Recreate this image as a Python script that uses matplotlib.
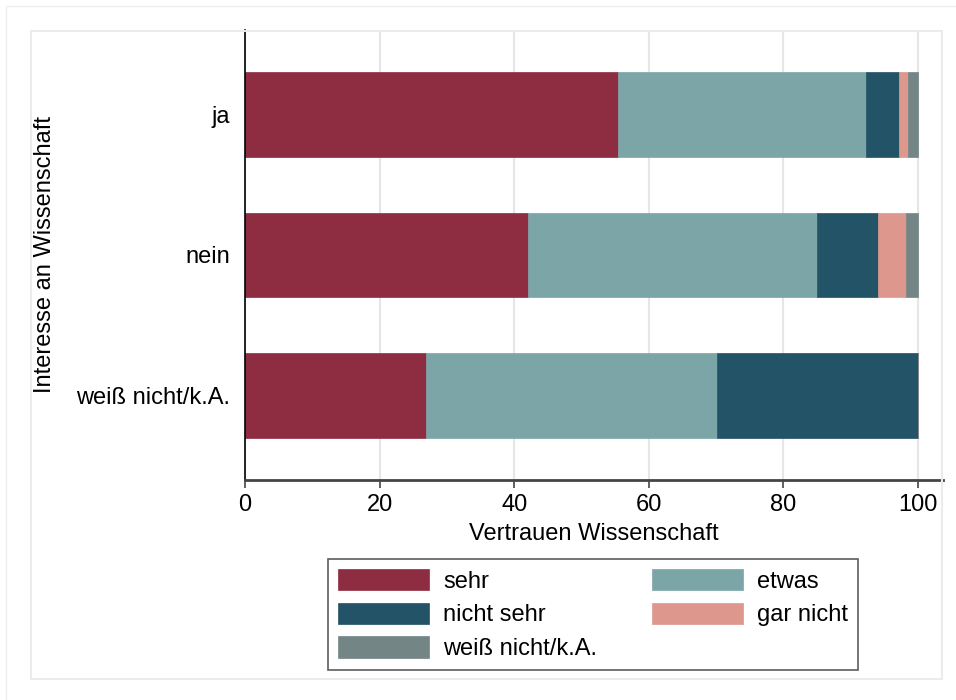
import matplotlib.pyplot as plt
from matplotlib.patches import Rectangle

plt.rcParams['font.family'] = ['Liberation Sans', 'DejaVu Sans']

# data
groups = ['ja', 'nein', 'weiß nicht/k.A.']
answers = ['sehr', 'etwas', 'nicht sehr', 'gar nicht', 'weiß nicht/k.A.']
sehr = [55.4, 42.1, 26.9]
etwas = [36.9, 42.9, 43.2]
nicht_sehr = [4.9, 9.0, 29.9]
gar_nicht = [1.3, 4.2, 0.0]
weiss_nicht = [1.5, 1.8, 0.0]
colors = ['#8e2c41', '#7ca5a8', '#225366', '#dd978c', '#748586']

fig = plt.figure(figsize=(9.56, 7.0), dpi=100)
ax = fig.add_axes([0.2563, 0.3143, 0.7301, 0.6429])

# faint outer frames (Stata style)
fig.patches.append(Rectangle((6 / 956, -0.01), 1.0, 1 - 6 / 700 + 0.01,
                             transform=fig.transFigure, fill=False,
                             edgecolor='#efefef', lw=1, zorder=0))
fig.patches.append(Rectangle((31 / 956, 1 - 679 / 700), 911 / 956, 648 / 700,
                             transform=fig.transFigure, fill=False,
                             edgecolor='#ebebeb', lw=1.5, zorder=0))

series = [sehr, etwas, nicht_sehr, gar_nicht, weiss_nicht]
pos = list(range(len(groups)))
left = [0.0] * len(groups)
handles = []
for vals, lab, col in zip(series, answers, colors):
    b = ax.barh(pos, vals, left=left, height=0.6, color=col, label=lab,
                edgecolor=col, linewidth=0.5, zorder=2)
    handles.append(b)
    left = [l + v for l, v in zip(left, vals)]

FS = 17
ax.set_xlim(0, 103.7)
ax.set_ylim(2.6, -0.6)
ax.set_yticks(pos)
ax.set_yticklabels(groups, fontsize=FS)
ax.set_xticks([0, 20, 40, 60, 80, 100])
ax.tick_params(axis='x', labelsize=FS, length=6, width=1.2, color='#444444', pad=4)
ax.tick_params(axis='y', length=0, pad=11)
ax.grid(axis='x', color='#e6e6e6', lw=1.5, zorder=0)
ax.set_axisbelow(True)
for s in ['top', 'right']:
    ax.spines[s].set_visible(False)
ax.spines['left'].set_color('black')
ax.spines['left'].set_linewidth(1.2)
ax.spines['bottom'].set_color('#444444')
ax.spines['bottom'].set_linewidth(2)

ax.set_xlabel('Vertrauen Wissenschaft', fontsize=FS, labelpad=5)
ax.set_ylabel('Interesse an Wissenschaft', fontsize=FS, labelpad=14)

# legend filled row by row like the reference
order = [0, 2, 4, 1, 3]
leg = fig.legend(handles=[handles[i] for i in order],
                 labels=[answers[i] for i in order], ncol=2, fontsize=FS,
                 loc='upper center', bbox_to_anchor=(593 / 956, 1 - 559 / 700),
                 frameon=True, fancybox=False, edgecolor='#333333',
                 handlelength=3.85, handleheight=1.02, handletextpad=0.6,
                 columnspacing=2.3, labelspacing=0.42, borderpad=0.42,
                 borderaxespad=0)
leg.get_frame().set_linewidth(1.2)

fig.savefig('out.png', dpi=100)
